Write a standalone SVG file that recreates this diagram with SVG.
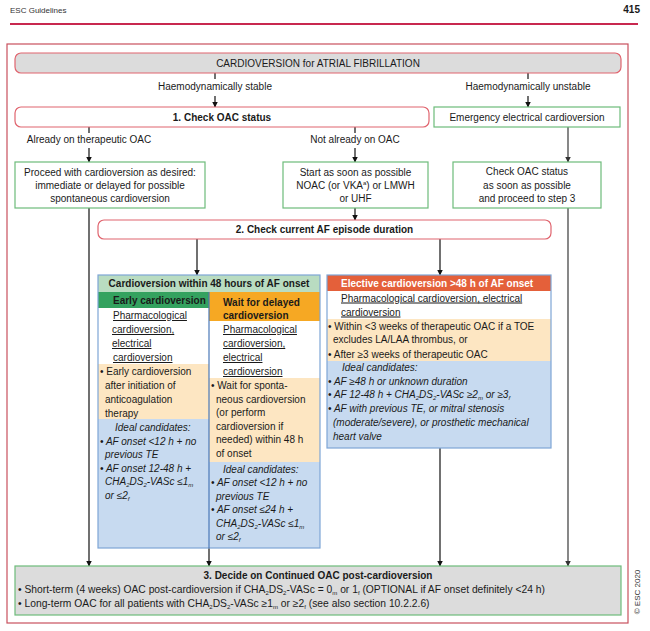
<svg xmlns="http://www.w3.org/2000/svg" width="650" height="631" viewBox="0 0 650 631">
<style>
text{font-family:"Liberation Sans",Arial,sans-serif;font-size:10px;fill:#1a1a1a;}
.b{font-weight:bold;}
.i{font-style:italic;}
.c{text-anchor:middle;}
.u{text-decoration:underline;}
.s3{font-size:10.3px;}
.sub{font-size:6px;baseline-shift:-2px;}
.sup{font-size:6px;baseline-shift:4px;}
.red{fill:#ffffff;stroke:#e0646e;stroke-width:1.2;}
.grn{fill:#ffffff;stroke:#6dbb7a;stroke-width:1.2;}
.ln{stroke:#111;stroke-width:1.2;fill:none;}
.lg{stroke:#555;stroke-width:1.4;fill:none;}
.beige{fill:#fde6c2;}
.blue{fill:#c7daf0;}
</style>
<defs>
<marker id="ah" markerWidth="6" markerHeight="6" refX="5.5" refY="3" orient="auto" markerUnits="userSpaceOnUse">
<path d="M0,0 L6,3 L0,6 z" fill="#111"/>
</marker>
<marker id="ahg" markerWidth="6" markerHeight="6" refX="5.5" refY="3" orient="auto" markerUnits="userSpaceOnUse">
<path d="M0,0 L6,3 L0,6 z" fill="#333"/>
</marker>
</defs>
<rect width="650" height="631" fill="#ffffff"/>

<g id="page-header">
<text x="10" y="13" style="font-size:8px;fill:#333">ESC Guidelines</text>
<text x="640" y="13" class="b" style="text-anchor:end;font-size:10px">415</text>
<line x1="10" y1="24" x2="638" y2="24" stroke="#c8284f" stroke-width="2"/>
<rect x="7" y="44" width="621" height="579" fill="none" stroke="#c8505e" stroke-width="1.2"/>
<text transform="translate(640,592) rotate(-90)" class="c" style="font-size:8px;fill:#333">© ESC 2020</text>
</g>

<g id="connectors">
<line class="ln" x1="215" y1="73" x2="215" y2="79"/>
<line class="ln" x1="215" y1="96" x2="215" y2="107" marker-end="url(#ah)"/>
<line class="ln" x1="528" y1="73" x2="528" y2="79"/>
<line class="ln" x1="528" y1="96" x2="528" y2="107" marker-end="url(#ah)"/>
<line class="ln" x1="89" y1="127" x2="89" y2="133"/>
<line class="ln" x1="89" y1="148" x2="89" y2="162" marker-end="url(#ah)"/>
<line class="ln" x1="355" y1="127" x2="355" y2="133"/>
<line class="ln" x1="355" y1="148" x2="355" y2="162" marker-end="url(#ah)"/>
<line class="lg" x1="568" y1="127" x2="568" y2="162" marker-end="url(#ahg)"/>
<line class="ln" x1="355" y1="208" x2="355" y2="220" marker-end="url(#ah)"/>
<line class="ln" x1="89" y1="208" x2="89" y2="566" marker-end="url(#ah)"/>
<line class="lg" x1="568" y1="208" x2="568" y2="566" marker-end="url(#ahg)"/>
<line class="ln" x1="197" y1="239" x2="197" y2="275" marker-end="url(#ah)"/>
<line class="ln" x1="440" y1="239" x2="440" y2="275" marker-end="url(#ah)"/>
<line class="ln" x1="209" y1="548" x2="209" y2="566" marker-end="url(#ah)"/>
<line class="ln" x1="440" y1="448" x2="440" y2="566" marker-end="url(#ah)"/>
</g>

<g id="labels">
<text x="215" y="90" class="c">Haemodynamically stable</text>
<text x="528" y="90" class="c">Haemodynamically unstable</text>
<text x="89" y="143" class="c">Already on therapeutic OAC</text>
<text x="355" y="143" class="c">Not already on OAC</text>
</g>

<g id="title">
<rect x="15" y="53" width="606" height="20" rx="6" fill="#dcdcdc" stroke="#e0646e" stroke-width="1.2"/>
<text x="318" y="66.5" class="c">CARDIOVERSION for ATRIAL FIBRILLATION</text>
</g>

<g id="step1">
<rect class="red" x="15" y="107" width="414" height="20" rx="6"/>
<text x="222" y="120.5" class="c b">1. Check OAC status</text>
</g>

<g id="emergency">
<rect class="grn" x="434" y="107" width="186" height="20"/>
<text x="527" y="120.5" class="c">Emergency electrical cardioversion</text>
</g>

<g id="proceed">
<rect class="grn" x="15" y="162" width="190" height="46"/>
<text x="110" y="175.5" class="c">Proceed with cardioversion as desired:</text>
<text x="110" y="188.5" class="c">immediate or delayed for possible</text>
<text x="110" y="202" class="c">spontaneous cardioversion</text>
</g>

<g id="start">
<rect class="grn" x="283" y="162" width="145" height="46"/>
<text x="355.5" y="175.5" class="c">Start as soon as possible</text>
<text x="355.5" y="188.5" class="c">NOAC (or VKA<tspan class="sup">a</tspan>) or LMWH</text>
<text x="355.5" y="202" class="c">or UHF</text>
</g>

<g id="check-status">
<rect class="grn" x="453" y="162" width="148" height="46"/>
<text x="527" y="175" class="c">Check OAC status</text>
<text x="527" y="188.5" class="c">as soon as possible</text>
<text x="527" y="202" class="c">and proceed to step 3</text>
</g>

<g id="step2">
<rect class="red" x="98" y="220" width="453" height="19" rx="6"/>
<text x="324.5" y="233" class="c b">2. Check current AF episode duration</text>
</g>

<g id="within48">
<rect x="98" y="275" width="222" height="17" fill="#b9dcc1"/>
<rect x="98" y="292" width="111" height="16" fill="#34a25f"/>
<rect x="98" y="308" width="111" height="56" fill="#ffffff"/>
<rect x="98" y="364" width="111" height="55" class="beige"/>
<rect x="98" y="419" width="111" height="129" class="blue"/>
<rect x="209" y="292" width="111" height="29" fill="#f6a823"/>
<rect x="209" y="321" width="111" height="57" fill="#ffffff"/>
<rect x="209" y="378" width="111" height="84" class="beige"/>
<rect x="209" y="462" width="111" height="86" class="blue"/>
<rect x="98" y="275" width="222" height="273" fill="none" stroke="#7ea6d6" stroke-width="1.2"/>
<line x1="209" y1="292" x2="209" y2="548" stroke="#4a78b8" stroke-width="1.2"/>
<text x="209" y="287" class="c b">Cardioversion within 48 hours of AF onset</text>
<text x="113" y="303.5" class="b">Early cardioversion</text>
<text x="113" y="319" class="u">Pharmacological</text>
<text x="112" y="333" class="u">cardioversion,</text>
<text x="112" y="347" class="u">electrical</text>
<text x="113" y="361" class="u">cardioversion</text>
<text x="100" y="374.5">• Early cardioversion</text>
<text x="105" y="388.5">after initiation of</text>
<text x="105" y="402.5">anticoagulation</text>
<text x="105" y="416.5">therapy</text>
<text x="115" y="431" class="i">Ideal candidates:</text>
<text x="100" y="444.5" class="i">• AF onset &lt;12 h + no</text>
<text x="105" y="458" class="i">previous TE</text>
<text x="100" y="471.5" class="i">• AF onset 12-48 h +</text>
<text x="105" y="485" class="i">CHA<tspan class="sub">2</tspan>DS<tspan class="sub">2</tspan>-VASc ≤1<tspan class="sub">m</tspan></text>
<text x="105" y="498.5" class="i">or ≤2<tspan class="sub">f</tspan></text>
<text x="223" y="305.5" class="b">Wait for delayed</text>
<text x="223" y="318.5" class="b">cardioversion</text>
<text x="223" y="333" class="u">Pharmacological</text>
<text x="223" y="347" class="u">cardioversion,</text>
<text x="223" y="361" class="u">electrical</text>
<text x="223" y="375" class="u">cardioversion</text>
<text x="211" y="389">• Wait for sponta-</text>
<text x="216" y="402.5">neous cardioversion</text>
<text x="216" y="416">(or perform</text>
<text x="216" y="429.5">cardioversion if</text>
<text x="216" y="443">needed) within 48 h</text>
<text x="216" y="456.5">of onset</text>
<text x="223" y="472.5" class="i">Ideal candidates:</text>
<text x="211" y="486" class="i">• AF onset &lt;12 h + no</text>
<text x="216" y="499.5" class="i">previous TE</text>
<text x="211" y="513" class="i">• AF onset ≤24 h +</text>
<text x="216" y="526.5" class="i">CHA<tspan class="sub">2</tspan>DS<tspan class="sub">2</tspan>-VASc ≤1<tspan class="sub">m</tspan></text>
<text x="216" y="540" class="i">or ≤2<tspan class="sub">f</tspan></text>
</g>

<g id="elective">
<rect x="327" y="275" width="224" height="16" fill="#e4603a"/>
<rect x="327" y="291" width="224" height="28" fill="#ffffff"/>
<rect x="327" y="319" width="224" height="42" class="beige"/>
<rect x="327" y="361" width="224" height="87" class="blue"/>
<rect x="327" y="275" width="224" height="173" fill="none" stroke="#7ea6d6" stroke-width="1.2"/>
<text x="341" y="287" class="b" style="fill:#ffffff">Elective cardioversion &gt;48 h of AF onset</text>
<text x="341" y="301.5" class="u">Pharmacological cardioversion, electrical</text>
<text x="341" y="315.5" class="u">cardioversion</text>
<text x="328" y="329.5">• Within &lt;3 weeks of therapeutic OAC if a TOE</text>
<text x="333" y="342.5">excludes LA/LAA thrombus, or</text>
<text x="328" y="357.5">• After ≥3 weeks of therapeutic OAC</text>
<text x="342" y="370.5" class="i">Ideal candidates:</text>
<text x="328" y="384.5" class="i">• AF ≥48 h or unknown duration</text>
<text x="328" y="397.5" class="i">• AF 12-48 h + CHA<tspan class="sub">2</tspan>DS<tspan class="sub">2</tspan>-VASc ≥2<tspan class="sub">m</tspan> or ≥3<tspan class="sub">f</tspan></text>
<text x="328" y="411.5" class="i">• AF with previous TE, or mitral stenosis</text>
<text x="333" y="426" class="i">(moderate/severe), or prosthetic mechanical</text>
<text x="333" y="440" class="i">heart valve</text>
</g>

<g id="step3">
<rect x="15" y="566" width="606" height="49" fill="#dcdcdc" stroke="#6dbb7a" stroke-width="1.2"/>
<text x="318" y="579" class="c b">3. Decide on Continued OAC post-cardioversion</text>
<text x="18" y="593" class="s3">• Short-term (4 weeks) OAC post-cardioversion if CHA<tspan class="sub">2</tspan>DS<tspan class="sub">2</tspan>-VASc = 0<tspan class="sub">m</tspan> or 1<tspan class="sub">f</tspan> (OPTIONAL if AF onset definitely &lt;24 h)</text>
<text x="18" y="607" class="s3">• Long-term OAC for all patients with CHA<tspan class="sub">2</tspan>DS<tspan class="sub">2</tspan>-VASc ≥1<tspan class="sub">m</tspan> or ≥2<tspan class="sub">f</tspan> (see also section 10.2.2.6)</text>
</g>
</svg>
